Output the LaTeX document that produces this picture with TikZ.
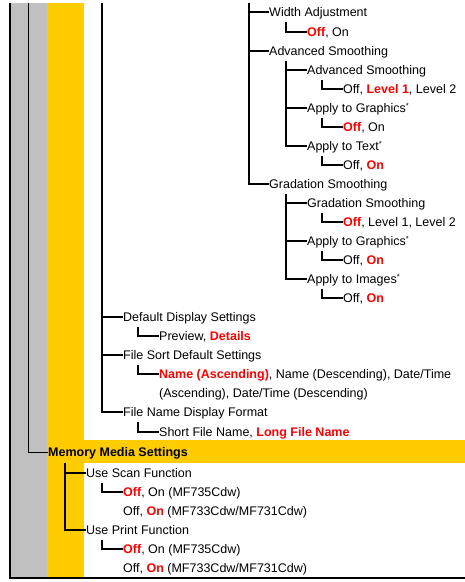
\documentclass[tikz,border=0pt]{standalone}
\usepackage{fontspec}
\setmainfont{Liberation Sans}
\usepackage{tikz}
\definecolor{menuyellow}{HTML}{FFCC00}
\definecolor{menugray}{HTML}{C0C0C0}
\definecolor{defred}{HTML}{FF0000}
\newcommand{\dflt}[1]{\textcolor{defred}{\textbf{#1}}}
\newcommand{\starmark}{\raisebox{4pt}{\fontsize{7.5}{7.5}\selectfont *}}
\begin{document}
\begin{tikzpicture}[x=1pt, y=-1pt,
	item/.style = {anchor=west, inner sep=0pt, text height=9pt, text depth=0pt, font=\fontsize{12.5}{15}\selectfont},
	head/.style = {item, font=\fontsize{12.5}{15}\selectfont\bfseries},
	branch/.style = {line width=1.3pt}]
					\useasboundingbox (0,0) rectangle (465,582);
					\fill[menugray] (10,3) rectangle (47,577);
					\fill[menuyellow] (47,3) rectangle (84,577);
					\fill[menuyellow] (47,440) rectangle (465,463);
					\draw[line width=2pt] (10,3) -- (10,578) -- (465,578);
					
					\coordinate (tb) at (28,3);
					\coordinate (td) at (102,3);
					\coordinate (tf) at (249,3);
					
					\node[item] (wa) at (269,12) {Width Adjustment};
					\node[item] (wa1) at (307,32) {\dflt{Off}, On};
					\node[item] (as) at (269,51) {Advanced Smoothing};
					\node[item] (as1) at (307,70) {Advanced Smoothing};
					\node[item] (as11) at (343,89) {Off, \dflt{Level 1}, Level 2};
					\node[item] (as2) at (307,108) {Apply to Graphics\starmark};
					\node[item] (as21) at (343,127) {\dflt{Off}, On};
					\node[item] (as3) at (307,146) {Apply to Text\starmark};
					\node[item] (as31) at (343,165) {Off, \dflt{On}};
					\node[item] (gs) at (269,184) {Gradation Smoothing};
					\node[item] (gs1) at (307,203) {Gradation Smoothing};
					\node[item] (gs11) at (343,222) {\dflt{Off}, Level 1, Level 2};
					\node[item] (gs2) at (307,241) {Apply to Graphics\starmark};
					\node[item] (gs21) at (343,260) {Off, \dflt{On}};
					\node[item] (gs3) at (307,279) {Apply to Images\starmark};
					\node[item] (gs31) at (343,298) {Off, \dflt{On}};
					\node[item] (dd) at (123,317) {Default Display Settings};
					\node[item] (dd1) at (159,336) {Preview, \dflt{Details}};
					\node[item] (fs) at (123,355) {File Sort Default Settings};
					\node[item] (fs1) at (159,374) {\dflt{Name (Ascending)}, Name (Descending), Date/Time};
					\node[item] (fs1b) at (159,393) {(Ascending), Date/Time (Descending)};
					\node[item] (fn) at (123,412) {File Name Display Format};
					\node[item] (fn1) at (159,432) {Short File Name, \dflt{Long File Name}};
					\node[head] (mm) at (48,452) {Memory Media Settings};
					\node[item] (us) at (86,473) {Use Scan Function};
					\node[item] (us1) at (123,492) {\dflt{Off}, On (MF735Cdw)};
					\node[item] (us1b) at (123,511) {Off, \dflt{On} (MF733Cdw/MF731Cdw)};
					\node[item] (up) at (86,530) {Use Print Function};
					\node[item] (up1) at (123,549) {\dflt{Off}, On (MF735Cdw)};
					\node[item] (up1b) at (123,568) {Off, \dflt{On} (MF733Cdw/MF731Cdw)};
					
					\coordinate (wax) at ([shift={(17,10)}]wa.west);
					\coordinate (asx) at ([shift={(17,10)}]as.west);
					\coordinate (as1x) at ([shift={(15,10)}]as1.west);
					\coordinate (as2x) at ([shift={(15,10)}]as2.west);
					\coordinate (as3x) at ([shift={(15,10)}]as3.west);
					\coordinate (gsx) at ([shift={(17,10)}]gs.west);
					\coordinate (gs1x) at ([shift={(15,10)}]gs1.west);
					\coordinate (gs2x) at ([shift={(15,10)}]gs2.west);
					\coordinate (gs3x) at ([shift={(15,10)}]gs3.west);
					\coordinate (ddx) at ([shift={(15,10)}]dd.west);
					\coordinate (fsx) at ([shift={(15,10)}]fs.west);
					\coordinate (fnx) at ([shift={(15,10)}]fn.west);
					\coordinate (mmx) at ([shift={(17,11)}]mm.west);
					\coordinate (usx) at ([shift={(16,10)}]us.west);
					\coordinate (upx) at ([shift={(16,10)}]up.west);
					
					\draw[branch] (tf) |- (gs.west);
					\draw[branch] (wa.west) -- (wa.west -| tf);
					\draw[branch] (as.west) -- (as.west -| tf);
					\draw[branch] (wax) |- (wa1.west);
					\draw[branch] (asx) |- (as3.west);
					\draw[branch] (as1.west) -- (as1.west -| asx);
					\draw[branch] (as2.west) -- (as2.west -| asx);
					\draw[branch] (as1x) |- (as11.west);
					\draw[branch] (as2x) |- (as21.west);
					\draw[branch] (as3x) |- (as31.west);
					\draw[branch] (gsx) |- (gs3.west);
					\draw[branch] (gs1.west) -- (gs1.west -| gsx);
					\draw[branch] (gs2.west) -- (gs2.west -| gsx);
					\draw[branch] (gs1x) |- (gs11.west);
					\draw[branch] (gs2x) |- (gs21.west);
					\draw[branch] (gs3x) |- (gs31.west);
					
					\draw[branch] (td) |- (fn.west);
					\draw[branch] (dd.west) -- (dd.west -| td);
					\draw[branch] (fs.west) -- (fs.west -| td);
					\draw[branch] (ddx) |- (dd1.west);
					\draw[branch] (fsx) |- (fs1.west);
					\draw[branch] (fnx) |- (fn1.west);
					
					\draw[line width=1pt] (tb) |- (mm.west);
					\draw[branch] (mmx) |- (up.west);
					\draw[branch] (us.west) -- (us.west -| mmx);
					\draw[branch] (usx) |- (us1.west);
					\draw[branch] (upx) |- (up1.west);
				\end{tikzpicture}
\end{document}
